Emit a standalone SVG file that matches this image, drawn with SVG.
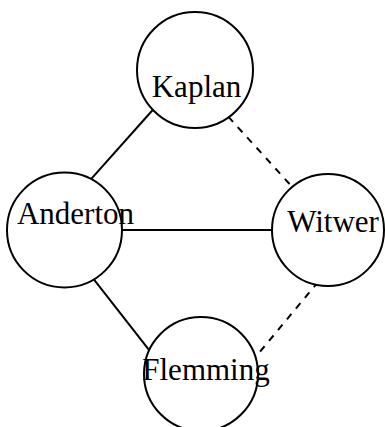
<svg xmlns="http://www.w3.org/2000/svg" width="385" height="427" viewBox="0 0 385 427">
<style>
.node circle{fill:#fff;stroke:#000;stroke-width:2}
.node text{font-family:"Liberation Serif","Times New Roman",serif;font-size:31px;fill:#000;text-anchor:middle}
.edge{stroke:#000;stroke-width:2;fill:none}
.dash{stroke-dasharray:7,7}
</style>
<rect width="385" height="427" fill="#fff"/>
<g id="connectors">
<line class="edge" x1="152.7" y1="110" x2="91.7" y2="178.3"/>
<line class="edge dash" x1="228.3" y1="116.7" x2="295" y2="190"/>
<line class="edge" x1="121.7" y1="230" x2="273.3" y2="230"/>
<line class="edge" x1="91.7" y1="276.7" x2="151.7" y2="353.3"/>
<line class="edge dash" x1="318.3" y1="281.7" x2="260" y2="351.7"/>
</g>
<g id="kaplan" class="node"><circle cx="195" cy="70" r="58"/><text x="196.5" y="97">Kaplan</text></g>
<g id="anderton" class="node"><circle cx="64.5" cy="230" r="57.5"/><text x="75.5" y="224">Anderton</text></g>
<g id="witwer" class="node"><circle cx="328" cy="230" r="56"/><text x="333" y="232">Witwer</text></g>
<g id="flemming" class="node"><circle cx="201" cy="374" r="57"/><text x="206" y="380">Flemming</text></g>
</svg>
